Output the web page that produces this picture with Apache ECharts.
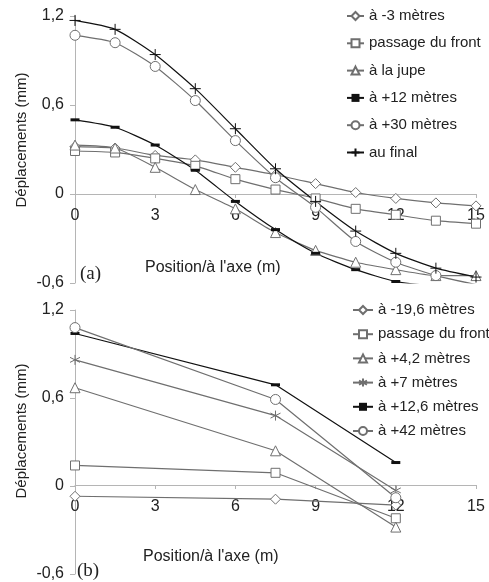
<!DOCTYPE html>
<html>
<head>
<meta charset="utf-8">
<script src="https://cdn.jsdelivr.net/npm/echarts@6/dist/echarts.min.js"></script>
<style>html,body{margin:0;padding:0;background:#fff;}#c{width:489px;height:582px;}</style>
</head>
<body>
<div id="c"></div>
<script>
// ---- Data (a) ----
const xTop = [0, 1.5, 3, 4.5, 6, 7.5, 9, 10.5, 12, 13.5, 15];
const topMoins3 = [0.32, 0.31, 0.26, 0.23, 0.18, 0.13, 0.07, 0.01, -0.03, -0.06, -0.08];
const topFront = [0.29, 0.28, 0.24, 0.19, 0.10, 0.03, -0.03, -0.10, -0.14, -0.18, -0.20];
const topJupe = [0.33, 0.31, 0.18, 0.03, -0.10, -0.26, -0.38, -0.46, -0.51, -0.55, -0.55];
const topPlus12 = [0.50, 0.45, 0.33, 0.16, -0.05, -0.24, -0.40, -0.51, -0.59, -0.62, -0.63];
const topPlus30 = [1.07, 1.02, 0.86, 0.63, 0.36, 0.11, -0.09, -0.32, -0.46, -0.55, -0.61];
const topFinal = [1.17, 1.11, 0.94, 0.71, 0.44, 0.17, -0.05, -0.25, -0.40, -0.50, -0.56];
const topNames = ['à -3 mètres', 'passage du front', 'à la jupe', 'à +12 mètres', 'à +30 mètres', 'au final'];

// ---- Data (b) ----
const xBot = [0, 7.5, 12];
const botMoins196 = [-0.07, -0.09, -0.13];
const botFront = [0.14, 0.09, -0.22];
const botPlus42m = [0.67, 0.24, -0.28];
const botPlus7 = [0.86, 0.48, -0.03];
const botPlus126 = [1.04, 0.69, 0.16];
const botPlus42 = [1.08, 0.59, -0.08];
const botNames = ['à -19,6 mètres', 'passage du front', 'à +4,2 mètres', 'à +7 mètres', 'à +12,6 mètres', 'à +42 mètres'];

const xTicks = {min: 0, max: 15, interval: 3};
const yTicks = {min: -0.6, max: 1.2, interval: 0.6};

const GRAY = '#6f6f6f';
const BLACK = '#111111';
const PLUS = 'path://M0,5L10,5M5,0L5,10';
const STAR = 'path://M5,0L5,10M0.67,2.5L9.33,7.5M9.33,2.5L0.67,7.5';

const GRID_H = 267;
// place the x axis at y = 0 (distance from grid bottom)
const zeroOffset = -GRID_H * (0 - yTicks.min) / (yTicks.max - yTicks.min);

function mk(name, xs, ys, idx, symbol, size, color, filled, smooth) {
  return {
    type: 'line', name: name, xAxisIndex: idx, yAxisIndex: idx,
    data: xs.map((x, i) => [x, ys[i]]),
    symbol: symbol, symbolSize: size, showAllSymbol: true,
    smooth: smooth,
    lineStyle: {color: color, width: 1.2},
    itemStyle: {color: filled ? color : '#fff', borderColor: color, borderWidth: filled ? 0 : 1},
    emphasis: {disabled: true},
    z: 3
  };
}

function yFmt(v) {
  if (Math.abs(v) < 1e-9) return '0';
  return v.toFixed(1).replace('.', ',');
}

const axisCol = '#b5b5b5';
const txt = '#222';
function xAxis(idx) {
  return {
    type: 'value', gridIndex: idx, min: xTicks.min, max: xTicks.max, interval: xTicks.interval,
    position: 'bottom', offset: zeroOffset,
    axisLine: {onZero: false, lineStyle: {color: axisCol, width: 1}},
    axisTick: {show: true, length: 4, lineStyle: {color: axisCol}},
    axisLabel: {color: txt, fontSize: 16, fontFamily: 'Liberation Sans', margin: 14},
    splitLine: {show: false}
  };
}
function yAxis(idx) {
  return {
    type: 'value', gridIndex: idx, min: yTicks.min, max: yTicks.max, interval: yTicks.interval,
    axisLine: {show: true, onZero: false, lineStyle: {color: axisCol, width: 1}},
    axisTick: {show: true, length: 5, lineStyle: {color: axisCol}},
    axisLabel: {color: txt, fontSize: 16, fontFamily: 'Liberation Sans', margin: 11, formatter: yFmt},
    splitLine: {show: false}
  };
}

const chart = echarts.init(document.getElementById('c'), null, {renderer: 'canvas'});
chart.setOption({
  animation: false,
  backgroundColor: '#fff',
  textStyle: {fontFamily: 'Liberation Sans'},
  grid: [
    {left: 75, top: 16, width: 401, height: GRID_H},
    {left: 75, top: 310, width: 401, height: GRID_H}
  ],
  xAxis: [xAxis(0), xAxis(1)],
  yAxis: [yAxis(0), yAxis(1)],
  legend: [
    {data: topNames, orient: 'vertical', left: 346, top: 8, padding: 0, itemWidth: 17, itemHeight: 10, itemGap: 11.3,
     textStyle: {fontSize: 15, color: txt, lineHeight: 16, fontFamily: 'Liberation Sans'}, selectedMode: false},
    {data: botNames, orient: 'vertical', left: 352, top: 302, padding: 0, itemWidth: 20, itemHeight: 10, itemGap: 8.2,
     textStyle: {fontSize: 15, color: txt, lineHeight: 16, fontFamily: 'Liberation Sans'}, selectedMode: false}
  ],
  title: [
    {text: "Position/à l'axe (m)", left: 145, top: 260, padding: 0,
     textStyle: {fontSize: 16, fontWeight: 'normal', color: txt, fontFamily: 'Liberation Sans'}},
    {text: "Position/à l'axe (m)", left: 143, top: 549, padding: 0,
     textStyle: {fontSize: 16, fontWeight: 'normal', color: txt, fontFamily: 'Liberation Sans'}},
    {text: '(a)', left: 80, top: 265, padding: 0,
     textStyle: {fontSize: 19, fontWeight: 'normal', color: txt, fontFamily: 'Liberation Serif'}},
    {text: '(b)', left: 77, top: 562, padding: 0,
     textStyle: {fontSize: 19, fontWeight: 'normal', color: txt, fontFamily: 'Liberation Serif'}}
  ],
  graphic: [
    {type: 'text', x: 22, y: 140, rotation: Math.PI / 2,
     style: {text: 'Déplacements (mm)', font: '15px "Liberation Sans"', fill: txt, align: 'center', verticalAlign: 'middle'}},
    {type: 'text', x: 22, y: 431, rotation: Math.PI / 2,
     style: {text: 'Déplacements (mm)', font: '15px "Liberation Sans"', fill: txt, align: 'center', verticalAlign: 'middle'}}
  ],
  series: [
    mk(topNames[0], xTop, topMoins3, 0, 'diamond', 10, GRAY, false, 0.2),
    mk(topNames[1], xTop, topFront, 0, 'rect', 9, GRAY, false, 0.2),
    mk(topNames[2], xTop, topJupe, 0, 'triangle', 10, GRAY, false, 0.2),
    mk(topNames[3], xTop, topPlus12, 0, 'rect', [9, 3], BLACK, true, 0.2),
    mk(topNames[4], xTop, topPlus30, 0, 'circle', 10, GRAY, false, 0.2),
    mk(topNames[5], xTop, topFinal, 0, PLUS, 11, BLACK, false, 0.2),
    mk(botNames[0], xBot, botMoins196, 1, 'diamond', 10, GRAY, false, false),
    mk(botNames[1], xBot, botFront, 1, 'rect', 9, GRAY, false, false),
    mk(botNames[2], xBot, botPlus42m, 1, 'triangle', 10, GRAY, false, false),
    mk(botNames[3], xBot, botPlus7, 1, STAR, 10, GRAY, false, false),
    mk(botNames[4], xBot, botPlus126, 1, 'rect', [9, 3], BLACK, true, false),
    mk(botNames[5], xBot, botPlus42, 1, 'circle', 10, GRAY, false, false)
  ]
});
</script>
</body>
</html>
